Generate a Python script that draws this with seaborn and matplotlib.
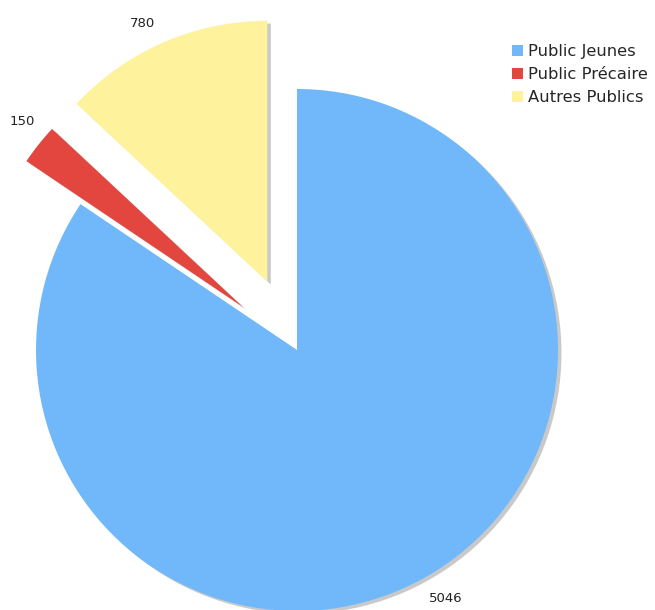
import matplotlib
matplotlib.use("Agg")
import matplotlib.pyplot as plt
import matplotlib.patheffects as pe
from matplotlib.patches import Patch
import seaborn as sns

# Audience breakdown
categories = ["Public Jeunes", "Public Précaire", "Autres Publics"]
values = [5046, 150, 780]
colors = ["#70B8FA", "#E3463F", "#FEF39C"]
explode = [0.0, 0.265, 0.285]

sns.set_theme(style="white")
plt.rcParams["font.family"] = ["DejaVu Sans"]

fig = plt.figure(figsize=(6.55, 6.10), dpi=100)
ax = fig.add_axes([0, 0, 1, 1])

wedges, texts = ax.pie(
    values,
    labels=[str(v) for v in values],
    colors=colors,
    explode=explode,
    startangle=90,
    counterclock=False,
    labeldistance=1.08,
    radius=1.0,
    wedgeprops=dict(linewidth=0),
    textprops=dict(fontsize=9.5, color="#222222"),
)
# the thin slice label sits centred over its wedge tip
texts[1].set_horizontalalignment("center")
x, y = texts[1].get_position()
texts[1].set_position((x, y + 0.04))

shadow = [pe.SimplePatchShadow(offset=(2.5, -2), shadow_rgbFace="#c4c4c4", alpha=0.9),
          pe.Normal()]
for w in wedges:
    w.set_path_effects(shadow)

# pie centred at (297, 350) px with a 261 px radius
ax.set_xlim(-297 / 261, (655 - 297) / 261)
ax.set_ylim(-(610 - 350) / 261, 350 / 261)
ax.set_aspect("equal", adjustable="datalim")
ax.axis("off")

handles = [Patch(facecolor=c, edgecolor="none") for c in colors]
fig.legend(
    handles, categories,
    loc="upper left", bbox_to_anchor=(512 / 655, 1 - 44 / 610),
    frameon=False, fontsize=11.8,
    handlelength=0.65, handleheight=0.7, handletextpad=0.35,
    labelspacing=0.5, borderpad=0, borderaxespad=0,
)

fig.savefig("out.png", dpi=100, facecolor="white")
